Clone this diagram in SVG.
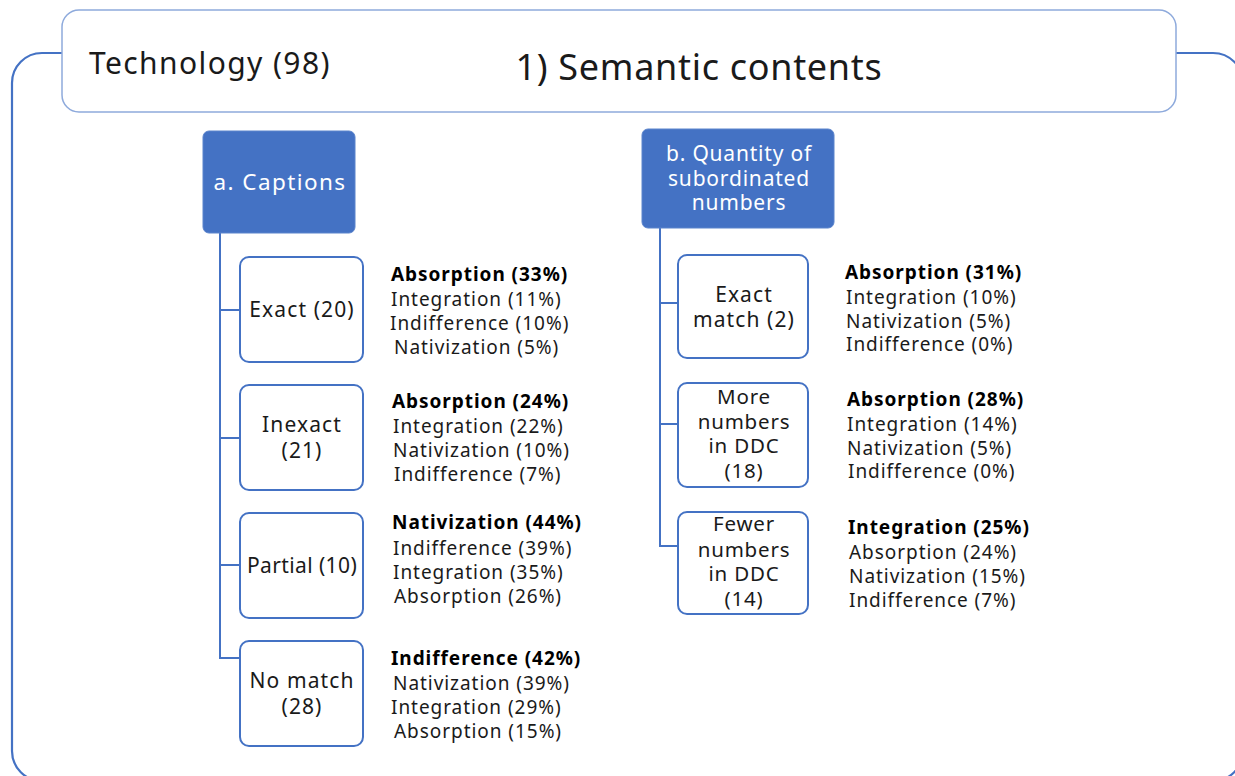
<svg xmlns="http://www.w3.org/2000/svg" width="1235" height="776" viewBox="0 0 1235 776">
<style>
text{font-family:"Noto Sans","Open Sans","DejaVu Sans",sans-serif;fill:#1a1a1a}
.lst{font-size:19px;fill:#262626;letter-spacing:0.95px}
.b{font-weight:bold;fill:#000}
.cb{fill:#fff;stroke:#4472C4;stroke-width:2}
.blue{fill:#4472C4;stroke:#5b84cc;stroke-width:1}
.wt{fill:#fff;font-size:21px;text-anchor:middle;letter-spacing:0.8px}
.ct{font-size:21px;text-anchor:middle;letter-spacing:1.1px}
.st{font-size:20.5px;letter-spacing:0.8px}
.con{fill:none;stroke:#4472C4;stroke-width:2}
</style>
<rect width="1235" height="776" fill="#fff"/>
<g id="frame"><rect x="12" y="53" width="1231" height="728" rx="30" fill="none" stroke="#4472C4" stroke-width="2.2"/></g>
<g id="header">
<rect x="62" y="10" width="1114" height="102" rx="17" fill="#fff" stroke="#8eaadc" stroke-width="1.5"/>
<text x="89" y="74" style="font-size:30px;letter-spacing:1.4px">Technology (98)</text>
<text x="699" y="80" style="font-size:36px;text-anchor:middle;letter-spacing:0.7px">1) Semantic contents</text>
</g>
<g id="connectors">
<path class="con" d="M220 224V658H240M220 310H240M220 438H240M220 565H240"/>
<path class="con" d="M660 228V546H678M660 303H678M660 424H678"/>
</g>
<g id="captions">
<rect class="blue" x="203" y="131" width="152" height="102" rx="6"/>
<text class="wt" x="280" y="190" style="font-size:22.5px;letter-spacing:1.4px">a. Captions</text>
</g>
<g id="quantity">
<rect class="blue" x="642" y="129" width="192" height="99" rx="6"/>
<text class="wt" x="739" y="161">b. Quantity of</text>
<text class="wt" x="739" y="186">subordinated</text>
<text class="wt" x="739" y="210">numbers</text>
</g>
<g id="exact">
<rect class="cb" x="240" y="257" width="123" height="105" rx="9"/>
<text class="ct" x="302" y="317">Exact (20)</text>
<g class="lst"><text class="b" x="391" y="281">Absorption (33%)</text><text x="391" y="306">Integration (11%)</text><text x="390" y="330">Indifference (10%)</text><text x="394" y="354">Nativization (5%)</text></g>
</g>
<g id="inexact">
<rect class="cb" x="240" y="385" width="123" height="105" rx="9"/>
<text class="ct" x="302" y="432">Inexact</text><text class="ct" x="302" y="458">(21)</text>
<g class="lst"><text class="b" x="392" y="408">Absorption (24%)</text><text x="393" y="433">Integration (22%)</text><text x="393" y="457">Nativization (10%)</text><text x="394" y="481">Indifference (7%)</text></g>
</g>
<g id="partial">
<rect class="cb" x="240" y="513" width="123" height="105" rx="9"/>
<text class="ct" x="302" y="573" style="letter-spacing:0.4px">Partial (10)</text>
<g class="lst"><text class="b" x="392" y="529">Nativization (44%)</text><text x="393" y="555">Indifference (39%)</text><text x="393" y="579">Integration (35%)</text><text x="394" y="603">Absorption (26%)</text></g>
</g>
<g id="nomatch">
<rect class="cb" x="240" y="641" width="123" height="105" rx="9"/>
<text class="ct" x="302" y="688">No match</text><text class="ct" x="302" y="714">(28)</text>
<g class="lst"><text class="b" x="391" y="665">Indifference (42%)</text><text x="393" y="690">Nativization (39%)</text><text x="391" y="714">Integration (29%)</text><text x="394" y="738">Absorption (15%)</text></g>
</g>
<g id="exactmatch">
<rect class="cb" x="678" y="255" width="130" height="103" rx="9"/>
<text class="ct" x="744" y="302">Exact</text><text class="ct" x="744" y="327">match (2)</text>
<g class="lst"><text class="b" x="845" y="279">Absorption (31%)</text><text x="846" y="304">Integration (10%)</text><text x="846" y="328">Nativization (5%)</text><text x="846" y="351">Indifference (0%)</text></g>
</g>
<g id="more">
<rect class="cb" x="678" y="383" width="130" height="104" rx="9"/>
<g class="ct st"><text x="744" y="404">More</text><text x="744" y="429">numbers</text><text x="744" y="453">in DDC</text><text x="744" y="478">(18)</text></g>
<g class="lst"><text class="b" x="847" y="406">Absorption (28%)</text><text x="847" y="431">Integration (14%)</text><text x="847" y="455">Nativization (5%)</text><text x="848" y="478">Indifference (0%)</text></g>
</g>
<g id="fewer">
<rect class="cb" x="678" y="512" width="130" height="102" rx="9"/>
<g class="ct st"><text x="744" y="531">Fewer</text><text x="744" y="557">numbers</text><text x="744" y="581">in DDC</text><text x="744" y="606">(14)</text></g>
<g class="lst"><text class="b" x="848" y="534">Integration (25%)</text><text x="849" y="559">Absorption (24%)</text><text x="849" y="583">Nativization (15%)</text><text x="849" y="607">Indifference (7%)</text></g>
</g>
</svg>
